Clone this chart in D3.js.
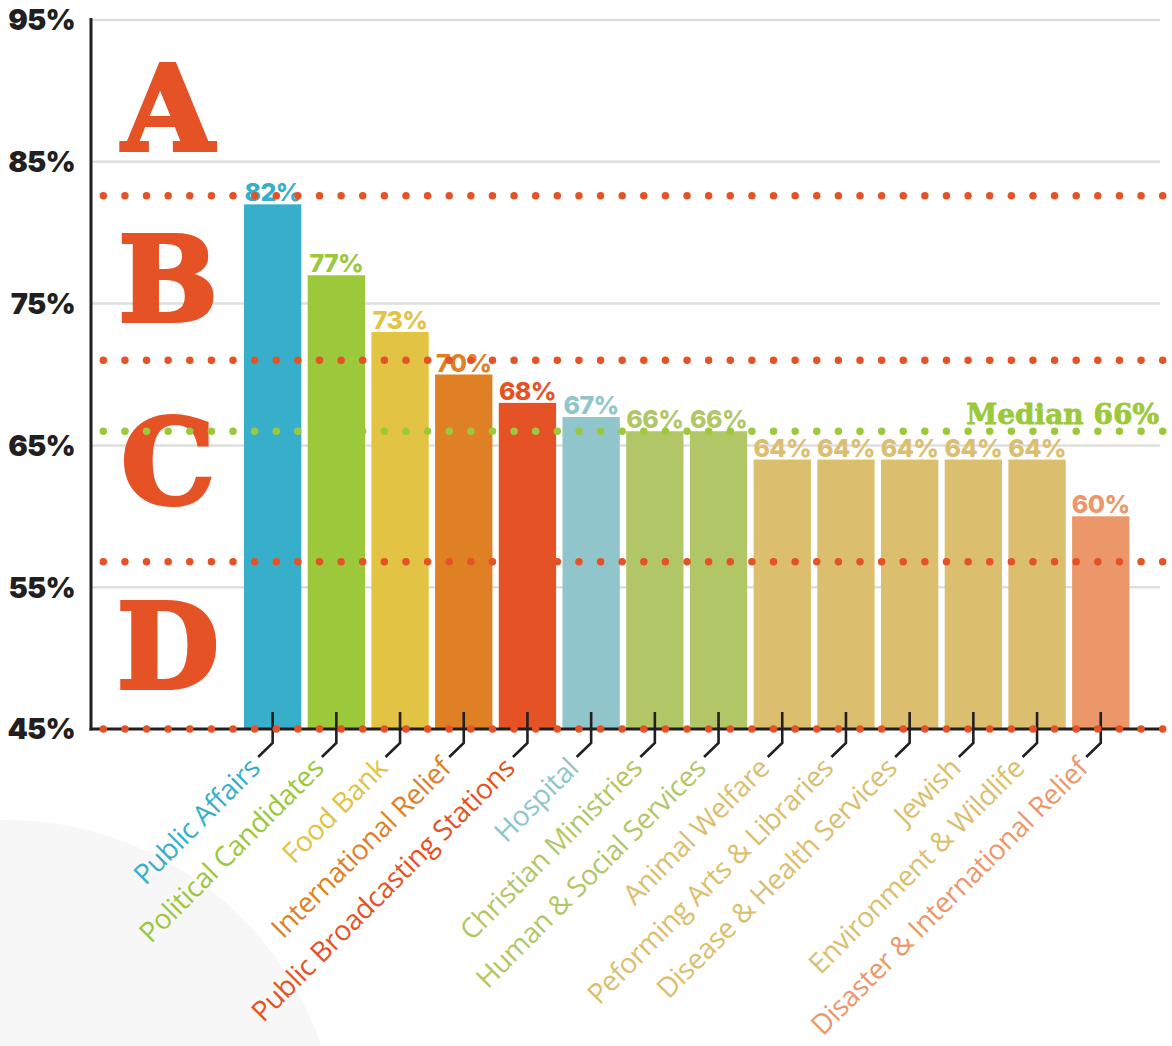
<!DOCTYPE html>
<html>
<head>
<meta charset="utf-8">
<script src="https://cdn.jsdelivr.net/npm/d3@7"></script>
<style>
html,body{margin:0;padding:0;background:#fff;}
svg{display:block;}
</style>
</head>
<body>
<svg id="chart" width="1172" height="1046"></svg>
<script>
const categories = ["Public Affairs","Political Candidates","Food Bank","International Relief","Public Broadcasting Stations","Hospital","Christian Ministries","Human & Social Services","Animal Welfare","Peforming Arts & Libraries","Disease & Health Services","Jewish","Environment & Wildlife","Disaster & International Relief"];
const values = [82,77,73,70,68,67,66,66,64,64,64,64,64,60];
const barColors = ["#38afca","#9cc83b","#e2c343","#df8024","#e55225","#8fc5cb","#b1c767","#b1c767","#dbbe6e","#dbbe6e","#dbbe6e","#dbbe6e","#dbbe6e","#ec976a"];
const yTicks = [45,55,65,75,85,95];
const yTickLabels = ["45%","55%","65%","75%","85%","95%"];
const grades = ["A","B","C","D"];
const gradeCutoffs = [95,82.6,71,56.8,45];
const medianValue = 66;
const medianLabel = "Median 66%";

const svg = d3.select("#chart");
const dark = "#231f20";
const gradeColor = "#e55225";
const medianColor = "#9cc83b";

const y = d3.scaleLinear().domain([45,95]).range([729,20]);
const x = d3.scaleBand().domain(categories).range([240.8,1132.6]).paddingInner(0.1).paddingOuter(0.05);
const xLeft = 91, xRight = 1162;

// background circle
svg.append("circle").attr("cx",6).attr("cy",1153).attr("r",333).attr("fill","#f7f7f7");

// gridlines
svg.append("g").selectAll("line").data(yTicks.filter(d=>d>45)).join("line")
  .attr("x1",xLeft).attr("x2",xRight-2)
  .attr("y1",d=>y(d)).attr("y2",d=>y(d))
  .attr("stroke","#dedede").attr("stroke-width",2.5);

// y tick labels
svg.append("g").selectAll("text").data(yTicks).join("text")
  .attr("x",75).attr("y",d=>y(d)).attr("dy","0.36em")
  .attr("text-anchor","end")
  .attr("font-family","Inter, Lato, sans-serif").attr("font-weight",900)
  .attr("font-size",29).attr("letter-spacing",-0.8).attr("fill",dark)
  .text((d,i)=>yTickLabels[i]);

// grade letters
svg.append("g").selectAll("text").data(grades).join("text")
  .attr("x",168).attr("y",(d,i)=>y((gradeCutoffs[i]+gradeCutoffs[i+1])/2)).attr("dy","0.36em")
  .attr("text-anchor","middle")
  .attr("font-family","'DejaVu Serif', serif").attr("font-weight","bold")
  .attr("font-size",118).attr("fill",gradeColor)
  .attr("stroke",gradeColor).attr("stroke-width",4).attr("stroke-linejoin","miter")
  .text(d=>d);

// bars
svg.append("g").selectAll("rect").data(values).join("rect")
  .attr("x",(d,i)=>x(categories[i])).attr("width",x.bandwidth())
  .attr("y",d=>y(d)).attr("height",d=>y(45)-y(d))
  .attr("fill",(d,i)=>barColors[i]);

// value labels
svg.append("g").selectAll("text").data(values).join("text")
  .attr("x",(d,i)=>x(categories[i])+x.bandwidth()/2).attr("y",d=>y(d)-3)
  .attr("text-anchor","middle")
  .attr("font-family","Inter, Lato, sans-serif").attr("font-weight",800)
  .attr("font-size",25).attr("letter-spacing",-0.6).attr("fill",(d,i)=>barColors[i])
  .text(d=>d+"%");

// axes
svg.append("line").attr("x1",xLeft).attr("x2",xLeft).attr("y1",18).attr("y2",y(45)+1.5)
  .attr("stroke",dark).attr("stroke-width",3);
svg.append("line").attr("x1",xLeft-1.5).attr("x2",1165).attr("y1",y(45)).attr("y2",y(45))
  .attr("stroke",dark).attr("stroke-width",3);

// hooks
svg.append("g").selectAll("path").data(categories).join("path")
  .attr("d",d=>{const cx=x(d)+x.bandwidth()/2, b=y(45); return `M${cx},${b-17}L${cx},${b+14}L${cx-14.5},${b+28}`;})
  .attr("fill","none").attr("stroke",dark).attr("stroke-width",2.6);

// category labels
svg.append("g").selectAll("text").data(categories).join("text")
  .attr("transform",(d)=>`translate(${x(d)+x.bandwidth()/2-18},${y(45)+34}) rotate(-45)`)
  .attr("text-anchor","end").attr("dy","0.35em")
  .attr("font-family","'Open Sans', 'Noto Sans', sans-serif").attr("font-size",28)
  .attr("letter-spacing",-0.4)
  .attr("fill",(d,i)=>barColors[i])
  .text(d=>d);

// dotted grade lines
const dotted = (v,color)=> svg.append("line")
  .attr("x1",103.3).attr("x2",1165).attr("y1",y(v)).attr("y2",y(v))
  .attr("stroke",color).attr("stroke-width",7.5).attr("stroke-linecap","round")
  .attr("stroke-dasharray","0 21.62");
gradeCutoffs.slice(1).forEach(v=>dotted(v,gradeColor));
dotted(medianValue,medianColor);

// median label
svg.append("text").attr("x",1159).attr("y",y(medianValue)-7)
  .attr("text-anchor","end")
  .attr("font-family","'DejaVu Serif', serif").attr("font-weight","bold")
  .attr("font-size",28).attr("fill",medianColor)
  .attr("stroke",medianColor).attr("stroke-width",0.8)
  .text(medianLabel);
</script>
</body>
</html>
